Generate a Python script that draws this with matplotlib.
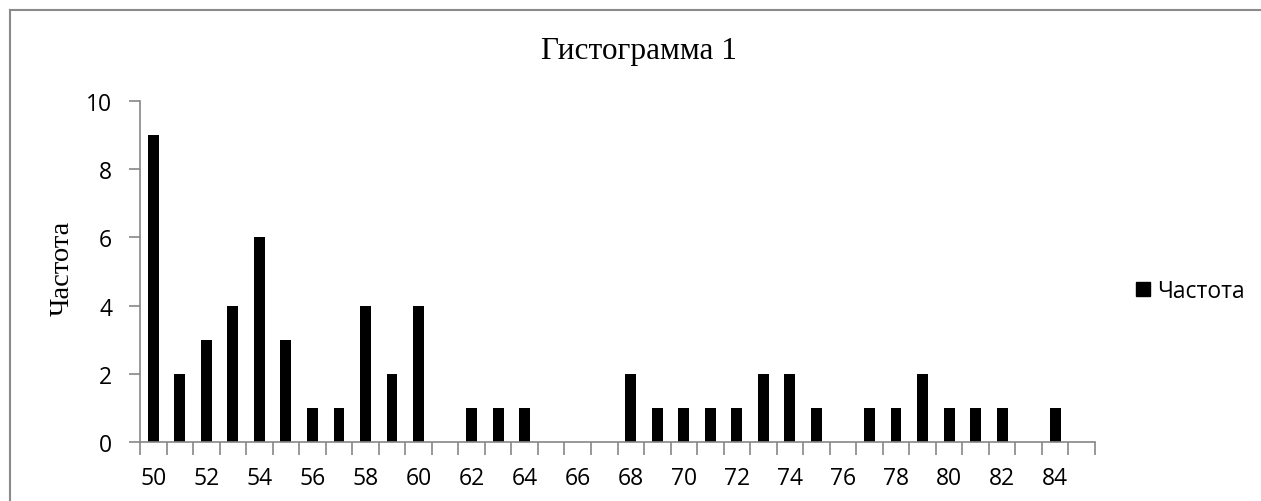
import matplotlib.pyplot as plt
from matplotlib.lines import Line2D
from matplotlib.patches import Patch
import numpy as np

# bins (left value of each bin) and frequencies
bins = list(range(50, 86))
freq = [9, 2, 3, 4, 6, 3, 1, 1, 4, 2, 4, 0, 1, 1, 1, 0, 0, 0,
        2, 1, 1, 1, 1, 2, 2, 1, 0, 1, 1, 2, 1, 1, 1, 0, 1, 0]
title = 'Гистограмма 1'
ylabel = 'Частота'
series_name = 'Частота'

grey = '#868686'
sans = ['Open Sans', 'DejaVu Sans']
serif = ['Liberation Serif', 'DejaVu Serif']

fig = plt.figure(figsize=(12.61, 5.02), dpi=100)
ax = fig.add_axes([140 / 1261, 1 - 443 / 502, (1095 - 140) / 1261, (443 - 102) / 502])

x = np.arange(len(bins))
ax.bar(x, freq, width=0.41, color='black')

ax.set_xlim(-0.5, len(bins) - 0.5)
ax.set_ylim(0, 10)

# labels every second bin, tick marks between categories
ax.set_xticks(x[::2])
ax.set_xticklabels([str(b) for b in bins[::2]], fontsize=16.5, family=sans)
ax.set_xticks(np.arange(len(bins) + 1) - 0.5, minor=True)
ax.tick_params(axis='x', which='major', length=0, pad=17)
ax.tick_params(axis='x', which='minor', length=9, color=grey, width=1.2)

ax.set_yticks(range(0, 11, 2))
ax.set_yticklabels([str(v) for v in range(0, 11, 2)], fontsize=16.5, family=sans)
ax.tick_params(axis='y', length=8, color=grey, width=1.2, pad=12)

for s in ['top', 'right']:
    ax.spines[s].set_visible(False)
for s in ['left', 'bottom']:
    ax.spines[s].set_color(grey)
    ax.spines[s].set_linewidth(1.2)

fig.text(639 / 1261, 1 - 52 / 502, title, ha='center', va='center',
         fontsize=22.5, family=serif)
fig.text(62 / 1261, 1 - 268 / 502, ylabel, ha='center', va='center',
         rotation=90, fontsize=20.5, family=serif)

handle = Patch(facecolor='black', edgecolor='black')
fig.legend([handle], [series_name], loc='center left',
           bbox_to_anchor=(1136 / 1261, 1 - 292 / 502), frameon=False,
           prop={'family': sans, 'size': 16.5}, handlelength=0.62,
           handleheight=0.62, handletextpad=0.3, borderaxespad=0,
           borderpad=0)

# chart frame (cropped on the right and bottom)
fig.add_artist(Line2D([10 / 1261, 10 / 1261], [0, 1 - 11 / 502], color='#8a8a8a', lw=1.5))
fig.add_artist(Line2D([10 / 1261, 1], [1 - 11 / 502, 1 - 11 / 502], color='#8a8a8a', lw=1.5))

fig.savefig('out.png', dpi=100)
